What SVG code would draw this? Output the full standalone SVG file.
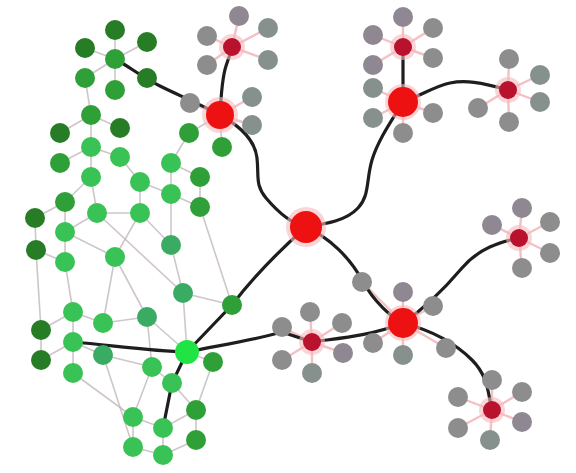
<svg xmlns="http://www.w3.org/2000/svg" width="576" height="473" viewBox="0 0 576 473">
  <style>
    .mesh { stroke: #bdb3b8; stroke-width: 1.6; fill: none; opacity: 0.75; }
    .spoke { stroke: #f3c0c4; stroke-width: 2.4; fill: none; }
    .trunk { stroke: #1e1e1e; stroke-width: 3.2; fill: none; stroke-linecap: round; }
    .gd { fill: #267d26; }
    .gm { fill: #2f9f38; }
    .gl { fill: #39c255; }
    .gb { fill: #1fe444; }
    .gt { fill: #3aab62; }
    .leaf { fill: #8d8d8d; }
    .leafp { fill: #8f8791; }
    .leaft { fill: #86918e; }
    .hub { fill: #ee1111; }
    .sub { fill: #b8122e; }
    .halo { fill: #f7b9bd; opacity: 0.6; }
  </style>

  <!-- connectors -->
  <g id="connectors">
    <!-- green cluster mesh -->
    <g id="mesh">
      <line class="mesh" x1="115" y1="59" x2="115" y2="30"/>
      <line class="mesh" x1="115" y1="59" x2="85" y2="48"/>
      <line class="mesh" x1="115" y1="59" x2="147" y2="42"/>
      <line class="mesh" x1="115" y1="59" x2="85" y2="78"/>
      <line class="mesh" x1="115" y1="59" x2="115" y2="90"/>
      <line class="mesh" x1="85" y1="78" x2="91" y2="115"/>
      <line class="mesh" x1="91" y1="115" x2="60" y2="133"/>
      <line class="mesh" x1="91" y1="115" x2="120" y2="128"/>
      <line class="mesh" x1="91" y1="115" x2="91" y2="147"/>
      <line class="mesh" x1="91" y1="147" x2="60" y2="163"/>
      <line class="mesh" x1="91" y1="147" x2="120" y2="157"/>
      <line class="mesh" x1="91" y1="147" x2="91" y2="177"/>
      <line class="mesh" x1="120" y1="157" x2="140" y2="182"/>
      <line class="mesh" x1="91" y1="177" x2="65" y2="202"/>
      <line class="mesh" x1="91" y1="177" x2="97" y2="213"/>
      <line class="mesh" x1="140" y1="182" x2="171" y2="194"/>
      <line class="mesh" x1="140" y1="182" x2="140" y2="213"/>
      <line class="mesh" x1="171" y1="163" x2="171" y2="194"/>
      <line class="mesh" x1="171" y1="163" x2="200" y2="177"/>
      <line class="mesh" x1="171" y1="163" x2="189" y2="133"/>
      <line class="mesh" x1="200" y1="177" x2="200" y2="207"/>
      <line class="mesh" x1="171" y1="194" x2="200" y2="207"/>
      <line class="mesh" x1="171" y1="194" x2="171" y2="245"/>
      <line class="mesh" x1="140" y1="213" x2="171" y2="245"/>
      <line class="mesh" x1="97" y1="213" x2="65" y2="232"/>
      <line class="mesh" x1="97" y1="213" x2="140" y2="213"/>
      <line class="mesh" x1="65" y1="202" x2="35" y2="218"/>
      <line class="mesh" x1="65" y1="202" x2="65" y2="232"/>
      <line class="mesh" x1="35" y1="218" x2="36" y2="250"/>
      <line class="mesh" x1="36" y1="250" x2="41" y2="330"/>
      <line class="mesh" x1="36" y1="250" x2="65" y2="262"/>
      <line class="mesh" x1="65" y1="232" x2="65" y2="262"/>
      <line class="mesh" x1="65" y1="232" x2="115" y2="257"/>
      <line class="mesh" x1="65" y1="262" x2="73" y2="312"/>
      <line class="mesh" x1="97" y1="213" x2="183" y2="293"/>
      <line class="mesh" x1="140" y1="213" x2="115" y2="257"/>
      <line class="mesh" x1="115" y1="257" x2="103" y2="323"/>
      <line class="mesh" x1="115" y1="257" x2="147" y2="317"/>
      <line class="mesh" x1="171" y1="245" x2="183" y2="293"/>
      <line class="mesh" x1="200" y1="207" x2="232" y2="305"/>
      <line class="mesh" x1="183" y1="293" x2="232" y2="305"/>
      <line class="mesh" x1="183" y1="293" x2="187" y2="352"/>
      <line class="mesh" x1="73" y1="312" x2="103" y2="323"/>
      <line class="mesh" x1="73" y1="312" x2="41" y2="330"/>
      <line class="mesh" x1="73" y1="312" x2="73" y2="342"/>
      <line class="mesh" x1="103" y1="323" x2="147" y2="317"/>
      <line class="mesh" x1="147" y1="317" x2="187" y2="352"/>
      <line class="mesh" x1="147" y1="317" x2="152" y2="367"/>
      <line class="mesh" x1="73" y1="342" x2="41" y2="360"/>
      <line class="mesh" x1="73" y1="342" x2="73" y2="373"/>
      <line class="mesh" x1="73" y1="342" x2="103" y2="355"/>
      <line class="mesh" x1="41" y1="330" x2="41" y2="360"/>
      <line class="mesh" x1="103" y1="355" x2="152" y2="367"/>
      <line class="mesh" x1="73" y1="373" x2="133" y2="417"/>
      <line class="mesh" x1="103" y1="355" x2="133" y2="447"/>
      <line class="mesh" x1="152" y1="367" x2="172" y2="383"/>
      <line class="mesh" x1="152" y1="367" x2="133" y2="417"/>
      <line class="mesh" x1="163" y1="428" x2="133" y2="417"/>
      <line class="mesh" x1="163" y1="428" x2="196" y2="410"/>
      <line class="mesh" x1="163" y1="428" x2="163" y2="455"/>
      <line class="mesh" x1="163" y1="455" x2="133" y2="447"/>
      <line class="mesh" x1="163" y1="455" x2="196" y2="440"/>
      <line class="mesh" x1="196" y1="410" x2="196" y2="440"/>
      <line class="mesh" x1="187" y1="352" x2="213" y2="362"/>
      <line class="mesh" x1="213" y1="362" x2="196" y2="410"/>
      <line class="mesh" x1="172" y1="383" x2="196" y2="410"/>
      <line class="mesh" x1="133" y1="417" x2="133" y2="447"/>
      <line class="mesh" x1="220" y1="115" x2="222" y2="147"/>
      <line class="mesh" x1="220" y1="115" x2="189" y2="133"/>
    </g>

    <!-- leaf spokes -->
    <g id="spokes">
      <path class="spoke" d="M232 47L239 16M232 47L207 36M232 47L268 28M232 47L207 65M232 47L268 60"/>
      <path class="spoke" d="M220 115L190 103M220 115L252 97M220 115L252 125"/>
      <path class="spoke" d="M403 47L403 17M403 47L373 35M403 47L433 28M403 47L373 65M403 47L433 58"/>
      <path class="spoke" d="M403 102L373 88M403 102L433 113M403 102L373 118M403 102L403 133"/>
      <path class="spoke" d="M508 90L509 59M508 90L540 75M508 90L540 102M508 90L509 122M508 90L478 108"/>
      <path class="spoke" d="M519 238L492 225M519 238L522 208M519 238L550 222M519 238L550 253M519 238L522 268"/>
      <path class="spoke" d="M403 323L403 292M403 323L403 355M403 323L362 282M403 323L433 306M403 323L446 348M403 323L373 343"/>
      <path class="spoke" d="M312 342L310 312M312 342L282 327M312 342L342 323M312 342L282 360M312 342L343 353M312 342L312 373"/>
      <path class="spoke" d="M492 410L492 380M492 410L458 397M492 410L522 392M492 410L458 428M492 410L522 422M492 410L490 440"/>
    </g>

    <!-- main trunks -->
    <g id="trunks">
      <path class="trunk" d="M220 115C221 95 222 78 226 66S231 52 232 47"/>
      <path class="trunk" d="M220 115C200 104 180 96 160 86S130 67 115 59"/>
      <path class="trunk" d="M220 115C240 126 255 140 257 158S255 185 266 198S292 224 306 227"/>
      <path class="trunk" d="M403 102C392 120 378 140 372 160S370 195 358 208S325 224 306 227"/>
      <path class="trunk" d="M403 102L403 47"/>
      <path class="trunk" d="M403 102C420 96 435 86 450 83S480 82 508 90"/>
      <path class="trunk" d="M306 227C280 250 255 275 232 305L187 352"/>
      <path class="trunk" d="M306 227C330 238 350 258 362 280S392 318 403 323"/>
      <path class="trunk" d="M403 323C425 308 445 288 462 268S500 242 519 238"/>
      <path class="trunk" d="M403 323C430 330 455 343 472 360S488 395 492 410"/>
      <path class="trunk" d="M312 342C340 338 370 336 403 323"/>
      <path class="trunk" d="M187 352C215 346 250 341 282 332L312 342"/>
      <path class="trunk" d="M73 342C110 345 150 351 187 352"/>
      <path class="trunk" d="M187 352L172 383L163 428"/>
    </g>
  </g>

  <!-- green cluster nodes -->
  <g id="cluster">
    <g id="c1"><circle class="gd" cx="115" cy="30" r="10"/></g>
    <g id="c2"><circle class="gd" cx="85" cy="48" r="10"/></g>
    <g id="c3"><circle class="gd" cx="147" cy="42" r="10"/></g>
    <g id="c4"><circle class="gm" cx="115" cy="59" r="10"/></g>
    <g id="c5"><circle class="gd" cx="147" cy="78" r="10"/></g>
    <g id="c6"><circle class="gm" cx="85" cy="78" r="10"/></g>
    <g id="c7"><circle class="gm" cx="115" cy="90" r="10"/></g>
    <g id="c8"><circle class="gm" cx="91" cy="115" r="10"/></g>
    <g id="c9"><circle class="gd" cx="60" cy="133" r="10"/></g>
    <g id="c10"><circle class="gd" cx="120" cy="128" r="10"/></g>
    <g id="c11"><circle class="gm" cx="189" cy="133" r="10"/></g>
    <g id="c12"><circle class="gm" cx="222" cy="147" r="10"/></g>
    <g id="c13"><circle class="gl" cx="91" cy="147" r="10"/></g>
    <g id="c14"><circle class="gl" cx="120" cy="157" r="10"/></g>
    <g id="c15"><circle class="gm" cx="60" cy="163" r="10"/></g>
    <g id="c16"><circle class="gl" cx="171" cy="163" r="10"/></g>
    <g id="c17"><circle class="gm" cx="200" cy="177" r="10"/></g>
    <g id="c18"><circle class="gl" cx="91" cy="177" r="10"/></g>
    <g id="c19"><circle class="gl" cx="140" cy="182" r="10"/></g>
    <g id="c20"><circle class="gm" cx="65" cy="202" r="10"/></g>
    <g id="c21"><circle class="gl" cx="171" cy="194" r="10"/></g>
    <g id="c22"><circle class="gm" cx="200" cy="207" r="10"/></g>
    <g id="c23"><circle class="gl" cx="97" cy="213" r="10"/></g>
    <g id="c24"><circle class="gl" cx="140" cy="213" r="10"/></g>
    <g id="c25"><circle class="gd" cx="35" cy="218" r="10"/></g>
    <g id="c26"><circle class="gl" cx="65" cy="232" r="10"/></g>
    <g id="c27"><circle class="gd" cx="36" cy="250" r="10"/></g>
    <g id="c28"><circle class="gl" cx="65" cy="262" r="10"/></g>
    <g id="c29"><circle class="gl" cx="115" cy="257" r="10"/></g>
    <g id="c30"><circle class="gt" cx="171" cy="245" r="10"/></g>
    <g id="c31"><circle class="gt" cx="183" cy="293" r="10"/></g>
    <g id="c32"><circle class="gm" cx="232" cy="305" r="10"/></g>
    <g id="c33"><circle class="gl" cx="73" cy="312" r="10"/></g>
    <g id="c34"><circle class="gl" cx="103" cy="323" r="10"/></g>
    <g id="c35"><circle class="gt" cx="147" cy="317" r="10"/></g>
    <g id="c36"><circle class="gd" cx="41" cy="330" r="10"/></g>
    <g id="c37"><circle class="gl" cx="73" cy="342" r="10"/></g>
    <g id="c38"><circle class="gt" cx="103" cy="355" r="10"/></g>
    <g id="c39"><circle class="gd" cx="41" cy="360" r="10"/></g>
    <g id="c40"><circle class="gl" cx="152" cy="367" r="10"/></g>
    <g id="c41"><circle class="gm" cx="213" cy="362" r="10"/></g>
    <g id="c42"><circle class="gl" cx="73" cy="373" r="10"/></g>
    <g id="c43"><circle class="gl" cx="172" cy="383" r="10"/></g>
    <g id="c44"><circle class="gl" cx="133" cy="417" r="10"/></g>
    <g id="c45"><circle class="gm" cx="196" cy="410" r="10"/></g>
    <g id="c46"><circle class="gl" cx="163" cy="428" r="10"/></g>
    <g id="c47"><circle class="gl" cx="133" cy="447" r="10"/></g>
    <g id="c48"><circle class="gm" cx="196" cy="440" r="10"/></g>
    <g id="c49"><circle class="gl" cx="163" cy="455" r="10"/></g>
    <g id="c50"><circle class="gb" cx="187" cy="352" r="12"/></g>
  </g>

  <!-- gray leaf nodes -->
  <g id="leaves">
    <g id="l1"><circle class="leafp" cx="239" cy="16" r="10"/></g>
    <g id="l2"><circle class="leaf" cx="207" cy="36" r="10"/></g>
    <g id="l3"><circle class="leaft" cx="268" cy="28" r="10"/></g>
    <g id="l4"><circle class="leaf" cx="207" cy="65" r="10"/></g>
    <g id="l5"><circle class="leaft" cx="268" cy="60" r="10"/></g>
    <g id="l6"><circle class="leaf" cx="190" cy="103" r="10"/></g>
    <g id="l7"><circle class="leaft" cx="252" cy="97" r="10"/></g>
    <g id="l8"><circle class="leaft" cx="252" cy="125" r="10"/></g>
    <g id="l9"><circle class="leafp" cx="403" cy="17" r="10"/></g>
    <g id="l10"><circle class="leafp" cx="373" cy="35" r="10"/></g>
    <g id="l11"><circle class="leaf" cx="433" cy="28" r="10"/></g>
    <g id="l12"><circle class="leafp" cx="373" cy="65" r="10"/></g>
    <g id="l13"><circle class="leaf" cx="433" cy="58" r="10"/></g>
    <g id="l14"><circle class="leaft" cx="373" cy="88" r="10"/></g>
    <g id="l15"><circle class="leaf" cx="433" cy="113" r="10"/></g>
    <g id="l16"><circle class="leaft" cx="373" cy="118" r="10"/></g>
    <g id="l17"><circle class="leaf" cx="403" cy="133" r="10"/></g>
    <g id="l18"><circle class="leaf" cx="509" cy="59" r="10"/></g>
    <g id="l19"><circle class="leaft" cx="540" cy="75" r="10"/></g>
    <g id="l20"><circle class="leaft" cx="540" cy="102" r="10"/></g>
    <g id="l21"><circle class="leaf" cx="509" cy="122" r="10"/></g>
    <g id="l22"><circle class="leaf" cx="478" cy="108" r="10"/></g>
    <g id="l23"><circle class="leafp" cx="492" cy="225" r="10"/></g>
    <g id="l24"><circle class="leafp" cx="522" cy="208" r="10"/></g>
    <g id="l25"><circle class="leaf" cx="550" cy="222" r="10"/></g>
    <g id="l26"><circle class="leaf" cx="550" cy="253" r="10"/></g>
    <g id="l27"><circle class="leaf" cx="522" cy="268" r="10"/></g>
    <g id="l28"><circle class="leafp" cx="403" cy="292" r="10"/></g>
    <g id="l29"><circle class="leaft" cx="403" cy="355" r="10"/></g>
    <g id="l30"><circle class="leaf" cx="362" cy="282" r="10"/></g>
    <g id="l31"><circle class="leaf" cx="433" cy="306" r="10"/></g>
    <g id="l32"><circle class="leaf" cx="446" cy="348" r="10"/></g>
    <g id="l33"><circle class="leaf" cx="373" cy="343" r="10"/></g>
    <g id="l34"><circle class="leaf" cx="310" cy="312" r="10"/></g>
    <g id="l35"><circle class="leaf" cx="282" cy="327" r="10"/></g>
    <g id="l36"><circle class="leaf" cx="342" cy="323" r="10"/></g>
    <g id="l37"><circle class="leaf" cx="282" cy="360" r="10"/></g>
    <g id="l38"><circle class="leafp" cx="343" cy="353" r="10"/></g>
    <g id="l39"><circle class="leaft" cx="312" cy="373" r="10"/></g>
    <g id="l40"><circle class="leaf" cx="492" cy="380" r="10"/></g>
    <g id="l41"><circle class="leaf" cx="458" cy="397" r="10"/></g>
    <g id="l42"><circle class="leaf" cx="522" cy="392" r="10"/></g>
    <g id="l43"><circle class="leaf" cx="458" cy="428" r="10"/></g>
    <g id="l44"><circle class="leafp" cx="522" cy="422" r="10"/></g>
    <g id="l45"><circle class="leaft" cx="490" cy="440" r="10"/></g>
  </g>

  <!-- red hubs and sub-hubs -->
  <g id="hubs">
    <g id="hub-nw"><circle class="halo" cx="220" cy="115" r="18"/><circle class="hub" cx="220" cy="115" r="14"/></g>
    <g id="hub-center"><circle class="halo" cx="306" cy="227" r="20"/><circle class="hub" cx="306" cy="227" r="16"/></g>
    <g id="hub-ne"><circle class="halo" cx="403" cy="102" r="18"/><circle class="hub" cx="403" cy="102" r="15"/></g>
    <g id="hub-se"><circle class="halo" cx="403" cy="323" r="18"/><circle class="hub" cx="403" cy="323" r="15"/></g>
    <g id="sub-1"><circle class="halo" cx="232" cy="47" r="13"/><circle class="sub" cx="232" cy="47" r="9"/></g>
    <g id="sub-2"><circle class="halo" cx="403" cy="47" r="13"/><circle class="sub" cx="403" cy="47" r="9"/></g>
    <g id="sub-3"><circle class="halo" cx="508" cy="90" r="13"/><circle class="sub" cx="508" cy="90" r="9"/></g>
    <g id="sub-4"><circle class="halo" cx="519" cy="238" r="13"/><circle class="sub" cx="519" cy="238" r="9"/></g>
    <g id="sub-5"><circle class="halo" cx="312" cy="342" r="13"/><circle class="sub" cx="312" cy="342" r="9"/></g>
    <g id="sub-6"><circle class="halo" cx="492" cy="410" r="13"/><circle class="sub" cx="492" cy="410" r="9"/></g>
  </g>
</svg>
